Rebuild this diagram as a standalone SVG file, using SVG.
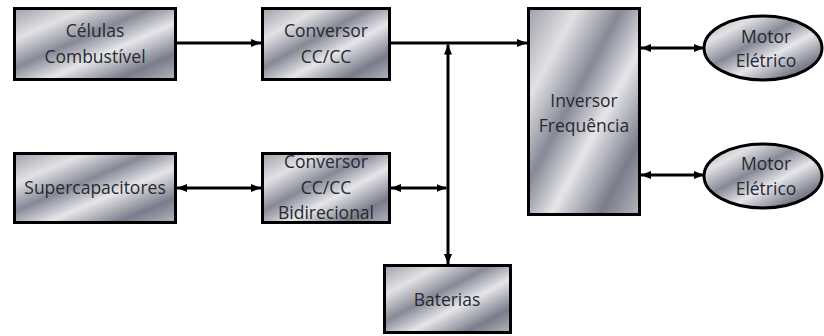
<svg xmlns="http://www.w3.org/2000/svg" width="824" height="336" viewBox="0 0 824 336">
<defs>
<linearGradient id="chrome" x1="0" y1="0" x2="1" y2="1">
<stop offset="0" stop-color="#9ea0a9"/>
<stop offset="0.22" stop-color="#e2e2e5"/>
<stop offset="0.42" stop-color="#868996"/>
<stop offset="0.6" stop-color="#e6e6ea"/>
<stop offset="0.82" stop-color="#797c8a"/>
<stop offset="1" stop-color="#b5b6be"/>
</linearGradient>
<marker id="arr" markerUnits="userSpaceOnUse" markerWidth="10" markerHeight="8" refX="10" refY="4" orient="auto-start-reverse">
<path d="M0,0 L10,4 L0,8 z" fill="#000"/>
</marker>
<style>
.box{fill:url(#chrome);stroke:#000;stroke-width:3}
.lbl{font-family:"Open Sans","Liberation Sans",Arial,sans-serif;font-size:17.5px;fill:#262a30;text-anchor:middle}
.ln{stroke:#000;stroke-width:3;fill:none}
</style>
</defs>
<rect width="824" height="336" fill="#fff"/>
<g id="celulas">
<rect class="box" x="14.5" y="8.5" width="161" height="71"/>
<text class="lbl" x="95" y="37">Células</text>
<text class="lbl" x="95" y="63">Combustível</text>
</g>
<g id="conversor1">
<rect class="box" x="262.5" y="8.5" width="127" height="71"/>
<text class="lbl" x="326" y="37">Conversor</text>
<text class="lbl" x="326" y="63">CC/CC</text>
</g>
<g id="inversor">
<rect class="box" x="528.5" y="8.5" width="111" height="206"/>
<text class="lbl" x="584" y="107">Inversor</text>
<text class="lbl" x="584" y="132">Frequência</text>
</g>
<g id="supercap">
<rect class="box" x="14.5" y="153.5" width="161" height="69"/>
<text class="lbl" x="95" y="194">Supercapacitores</text>
</g>
<g id="conversor2">
<rect class="box" x="262.5" y="153.5" width="127" height="69"/>
<text class="lbl" x="326" y="168">Conversor</text>
<text class="lbl" x="326" y="194">CC/CC</text>
<text class="lbl" x="326" y="219">Bidirecional</text>
</g>
<g id="baterias">
<rect class="box" x="384.5" y="265.5" width="126" height="67"/>
<text class="lbl" x="447" y="306">Baterias</text>
</g>
<g id="motor1">
<ellipse class="box" cx="763" cy="48" rx="59" ry="32"/>
<text class="lbl" x="766" y="43">Motor</text>
<text class="lbl" x="766" y="67">Elétrico</text>
</g>
<g id="motor2">
<ellipse class="box" cx="763" cy="176" rx="59" ry="32"/>
<text class="lbl" x="766" y="170">Motor</text>
<text class="lbl" x="766" y="195">Elétrico</text>
</g>
<g id="connectors">
<line class="ln" x1="177" y1="43" x2="261" y2="43" marker-end="url(#arr)"/>
<line class="ln" x1="391" y1="43" x2="527" y2="43" marker-end="url(#arr)"/>
<line class="ln" x1="448" y1="44.5" x2="448" y2="264" marker-start="url(#arr)" marker-end="url(#arr)"/>
<line class="ln" x1="177" y1="188" x2="261" y2="188" marker-start="url(#arr)" marker-end="url(#arr)"/>
<line class="ln" x1="391" y1="188" x2="446.5" y2="188" marker-start="url(#arr)" marker-end="url(#arr)"/>
<line class="ln" x1="641" y1="48" x2="704" y2="48" marker-start="url(#arr)" marker-end="url(#arr)"/>
<line class="ln" x1="641" y1="175" x2="704" y2="175" marker-start="url(#arr)" marker-end="url(#arr)"/>
</g>
</svg>
